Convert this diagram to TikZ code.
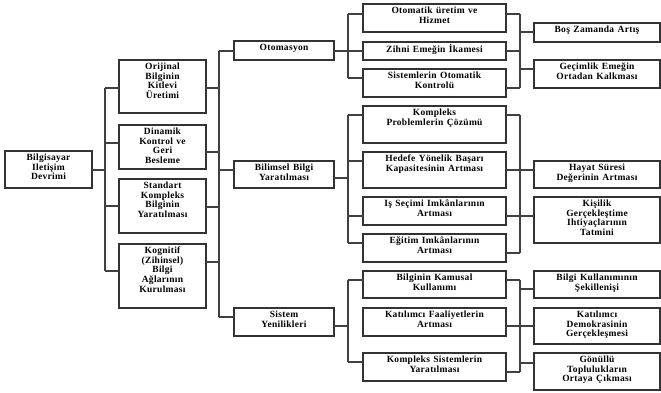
\documentclass[tikz,border=0pt]{standalone}
\usepackage{fontspec}
\setmainfont{Liberation Serif}[LetterSpace=3, WordSpace=1.3]
\usepackage{tikz}

\begin{document}
\begin{tikzpicture}[x=1pt,y=-1pt,
  kutu/.style n args={2}{draw=black!80, line width=1.1pt, minimum width=#1pt, minimum height=#2pt, inner sep=0pt, outer sep=0pt},
  yazi/.style={anchor=north, align=center, inner sep=2.6pt, font=\fontsize{9.5}{9.7}\selectfont\bfseries},
  hat/.style={draw=black!75, line width=1.1pt}]
\useasboundingbox (0,0) rectangle (661,392);
% root and first column
\node[kutu={87}{37}, label={[yazi]north:Bilgisayar\\Iletişim\\Devrimi}] (kok) at (48.5,169.5) {};
\node[kutu={87}{53}, label={[yazi]north:Orijinal\\Bilginin\\Kitlevi\\Üretimi}] (a1) at (162.5,86.5) {};
\node[kutu={87}{44}, label={[yazi]north:Dinamik\\Kontrol ve\\Geri\\Besleme}] (a2) at (162.5,147) {};
\node[kutu={87}{54}, label={[yazi]north:Standart\\Kompleks\\Bilginin\\Yaratılması}] (a3) at (162.5,206) {};
\node[kutu={87}{64}, label={[yazi]north:Kognitif\\(Zihinsel)\\Bilgi\\Ağlarının\\Kurulması}] (a4) at (162.5,276) {};
% second column
\node[kutu={100}{19}, label={[yazi]north:Otomasyon}] (b1) at (284,50.5) {};
\node[kutu={100}{27}, label={[yazi]north:Bilimsel Bilgi\\Yaratılması}] (b2) at (284,174.5) {};
\node[kutu={100}{28}, label={[yazi]north:Sistem\\Yenilikleri}] (b3) at (284,322) {};
% third column
\node[kutu={143}{28}, label={[yazi]north:Otomatik üretim ve\\Hizmet}] (c1) at (434.5,18) {};
\node[kutu={143}{18}, label={[yazi]north:Zihni Emeğin İkamesi}] (c2) at (434.5,51) {};
\node[kutu={143}{28}, label={[yazi]north:Sistemlerin Otomatik\\Kontrolü}] (c3) at (434.5,83) {};
\node[kutu={143}{37}, label={[yazi]north:Kompleks\\Problemlerin Çözümü}] (c4) at (434.5,124.5) {};
\node[kutu={143}{36}, label={[yazi]north:Hedefe Yönelik Başarı\\Kapasitesinin Artması}] (c5) at (434.5,170) {};
\node[kutu={143}{28}, label={[yazi]north:Iş Seçimi Imkânlarının\\Artması}] (c6) at (434.5,211) {};
\node[kutu={143}{28}, label={[yazi]north:Eğitim Imkânlarının\\Artması}] (c7) at (434.5,248) {};
\node[kutu={143}{27}, label={[yazi]north:Bilginin Kamusal\\Kullanımı}] (c8) at (434.5,284.5) {};
\node[kutu={143}{28}, label={[yazi]north:Katılımcı Faaliyetlerin\\Artması}] (c9) at (434.5,322) {};
\node[kutu={143}{28}, label={[yazi]north:Kompleks Sistemlerin\\Yaratılması}] (c10) at (434.5,367) {};
% fourth column
\node[kutu={126}{19}, label={[yazi]north:Boş Zamanda Artış}] (d1) at (597,32.5) {};
\node[kutu={126}{28}, label={[yazi]north:Geçimlik Emeğin\\Ortadan Kalkması}] (d2) at (597,74) {};
\node[kutu={126}{27}, label={[yazi]north:Hayat Süresi\\Değerinin Artması}] (d3) at (597,174.5) {};
\node[kutu={126}{46}, label={[yazi]north:Kişilik\\Gerçekleştime\\Ihtiyaçlarının\\Tatmini}] (d4) at (597,220) {};
\node[kutu={126}{27}, label={[yazi]north:Bilgi Kullanımının\\Şekillenişi}] (d5) at (597,284.5) {};
\node[kutu={126}{36}, label={[yazi]north:Katılımcı\\Demokrasinin\\Gerçekleşmesi}] (d6) at (597,326) {};
\node[kutu={126}{37}, label={[yazi]north:Gönüllü\\Toplulukların\\Ortaya Çıkması}] (d7) at (597,371.5) {};
% trunks
\coordinate (g0) at (105,0);
\coordinate (g1) at (219,0);
\coordinate (g2) at (348,0);
\coordinate (g3) at (520,0);
% root to first column
\draw[hat] (kok.east |- 0,170) -- (g0 |- 0,170);
\draw[hat] (g0 |- 0,88) -- (g0 |- 0,271);
\foreach \n/\y in {a1/88,a2/143,a3/206,a4/271}
  \draw[hat] (g0 |- 0,\y) -- (\n.west |- 0,\y);
% first column to second
\draw[hat] (g1 |- 0,51) -- (g1 |- 0,317);
\foreach \n/\y in {a1/88,a2/152,a3/207,a4/262}
  \draw[hat] (\n.east |- 0,\y) -- (g1 |- 0,\y);
\foreach \n/\y in {b1/51,b2/170,b3/317}
  \draw[hat] (g1 |- 0,\y) -- (\n.west |- 0,\y);
% second column to third
\draw[hat] (b1.east |- 0,51) -- (c2.west |- 0,51);
\draw[hat] (g2 |- 0,14) -- (g2 |- 0,78);
\draw[hat] (g2 |- 0,14) -- (c1.west |- 0,14);
\draw[hat] (g2 |- 0,78) -- (c3.west |- 0,78);
\draw[hat] (b2.east |- 0,178) -- (g2 |- 0,178);
\draw[hat] (g2 |- 0,115) -- (g2 |- 0,243);
\foreach \n/\y in {c4/115,c5/161,c6/216,c7/243}
  \draw[hat] (g2 |- 0,\y) -- (\n.west |- 0,\y);
\draw[hat] (b3.east |- 0,326) -- (g2 |- 0,326);
\draw[hat] (g2 |- 0,280) -- (g2 |- 0,362);
\draw[hat] (g2 |- 0,280) -- (c8.west |- 0,280);
\draw[hat] (g2 |- 0,362) -- (c10.west |- 0,362);
% third column to fourth
\draw[hat] (g3 |- 0,14) -- (g3 |- 0,88);
\foreach \n/\y in {c1/14,c2/51,c3/88}
  \draw[hat] (\n.east |- 0,\y) -- (g3 |- 0,\y);
\foreach \n/\y in {d1/32,d2/69}
  \draw[hat] (g3 |- 0,\y) -- (\n.west |- 0,\y);
\draw[hat] (g3 |- 0,115) -- (g3 |- 0,253);
\foreach \n/\y in {c4/115,c5/170,c6/216,c7/253}
  \draw[hat] (\n.east |- 0,\y) -- (g3 |- 0,\y);
\foreach \n/\y in {d3/170,d4/216}
  \draw[hat] (g3 |- 0,\y) -- (\n.west |- 0,\y);
\draw[hat] (g3 |- 0,280) -- (g3 |- 0,372);
\foreach \n/\y in {c8/280,c9/326,c10/372}
  \draw[hat] (\n.east |- 0,\y) -- (g3 |- 0,\y);
\foreach \n/\y in {d5/289,d6/326,d7/363}
  \draw[hat] (g3 |- 0,\y) -- (\n.west |- 0,\y);
\end{tikzpicture}
\end{document}
